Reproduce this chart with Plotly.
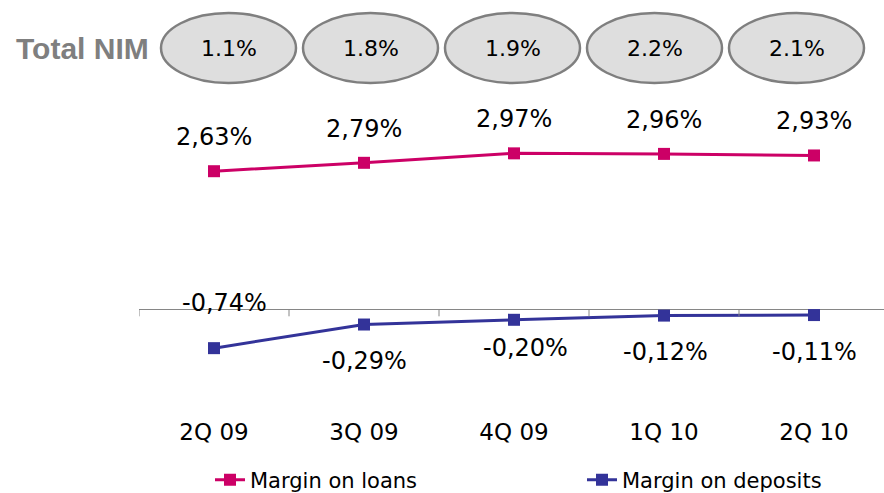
import plotly.graph_objects as go

categories = ["2Q 09", "3Q 09", "4Q 09", "1Q 10", "2Q 10"]
loans = [2.63, 2.79, 2.97, 2.96, 2.93]
deposits = [-0.74, -0.29, -0.20, -0.12, -0.11]
total_nim = ["1.1%", "1.8%", "1.9%", "2.2%", "2.1%"]

W, H = 884, 493
LOAN_C = "#CC0066"
DEP_C = "#333399"
LABEL_FONT = "DejaVu Sans, Verdana, sans-serif"

def fmt(v):
    return f"{v:.2f}".replace(".", ",") + "%"

xs = list(range(len(categories)))

fig = go.Figure()
fig.add_trace(go.Scatter(
    x=xs, y=loans, mode="lines+markers", name="Margin on loans",
    line=dict(color=LOAN_C, width=3),
    marker=dict(symbol="square", size=12, color=LOAN_C),
))
fig.add_trace(go.Scatter(
    x=xs, y=deposits, mode="lines+markers", name="Margin on deposits",
    line=dict(color=DEP_C, width=3),
    marker=dict(symbol="square", size=12, color=DEP_C),
))

annotations = []
# loan labels above the points
for i, v in enumerate(loans):
    annotations.append(dict(x=i, y=v, xref="x", yref="y", text=fmt(v),
                            showarrow=False, yshift=34,
                            xanchor="center", yanchor="middle",
                            font=dict(family=LABEL_FONT, size=24, color="black")))
# deposit labels (manually offset as in the source)
dep_shift = [(10, 45), (0, -36), (11, -28), (1, -36), (0, -37)]
for i, v in enumerate(deposits):
    dx, dy = dep_shift[i]
    annotations.append(dict(x=i, y=v, xref="x", yref="y", text=fmt(v),
                            showarrow=False, xshift=dx, yshift=dy,
                            xanchor="center", yanchor="middle",
                            font=dict(family=LABEL_FONT, size=24, color="black")))

# Total NIM row
annotations.append(dict(x=14 / W, y=1 - 48 / H, xref="paper", yref="paper",
                        xanchor="left", yanchor="middle", showarrow=False,
                        text="<b>Total NIM</b>",
                        font=dict(family="Liberation Sans, Arial, sans-serif",
                                  size=30, color="#7F7F7F")))
shapes = []
for i, t in enumerate(total_nim):
    cx = 228.5 + 142 * i
    shapes.append(dict(type="circle", xref="paper", yref="paper",
                       x0=(cx - 67.5) / W, x1=(cx + 67.5) / W,
                       y0=1 - 83 / H, y1=1 - 13 / H,
                       fillcolor="#DEDEDE", line=dict(color="#7F7F7F", width=2.5),
                       layer="below"))
    annotations.append(dict(x=cx / W, y=1 - 48 / H, xref="paper", yref="paper",
                            xanchor="center", yanchor="middle",
                            showarrow=False, text=t,
                            font=dict(family=LABEL_FONT, size=22, color="black")))

# tick marks on the zero line between categories
for k in range(len(categories) + 1):
    shapes.append(dict(type="line", xref="x", yref="y",
                       x0=k - 0.5, x1=k - 0.5, ysizemode="pixel", yanchor=0,
                       y0=0, y1=-7, line=dict(color="#868686", width=1)))

fig.update_layout(
    width=W, height=H,
    margin=dict(l=0, r=0, t=0, b=0, autoexpand=False),
    paper_bgcolor="white", plot_bgcolor="white",
    showlegend=True,
    legend=dict(orientation="h", x=210 / W, y=1 - 480 / H,
                xanchor="left", yanchor="middle",
                entrywidth=327, entrywidthmode="pixels",
                font=dict(family=LABEL_FONT, size=21, color="black"),
                bgcolor="rgba(0,0,0,0)"),
    xaxis=dict(domain=[139 / W, 1], range=[-0.5, -0.5 + 745 / 150],
               tickmode="array", tickvals=xs, ticktext=categories,
               showgrid=False, zeroline=False, showline=False, ticks="",
               ticklabelstandoff=6,
               tickfont=dict(family=LABEL_FONT, size=23, color="black")),
    yaxis=dict(domain=[83 / H, 1], range=[-1.918, 5.891],
               showgrid=False, showticklabels=False, ticks="",
               zeroline=True, zerolinecolor="#868686", zerolinewidth=1,
               showline=False),
    annotations=annotations,
    shapes=shapes,
)

fig.write_html("out.html")
